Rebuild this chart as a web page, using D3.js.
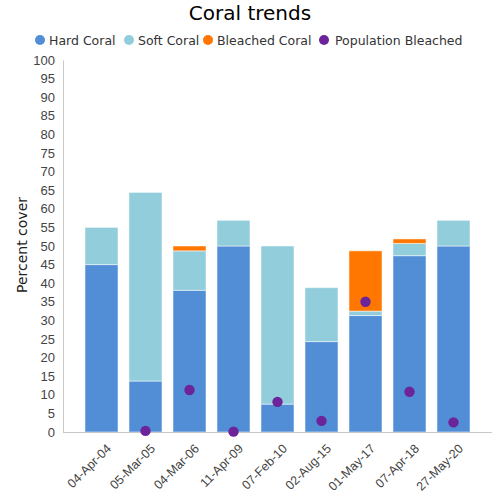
<!DOCTYPE html>
<html><head><meta charset="utf-8">
<script src="https://cdn.jsdelivr.net/npm/d3@7"></script>
<style>body{margin:0;background:#fff}svg{font-family:"DejaVu Sans",Verdana,sans-serif}</style>
</head><body><svg id="c" width="500" height="500"></svg>
<script>
const categories = ["04-Apr-04","05-Mar-05","04-Mar-06","11-Apr-09","07-Feb-10","02-Aug-15","01-May-17","07-Apr-18","27-May-20"];
const hardCoral = [45, 13.7, 38.1, 50, 7.5, 24.3, 31.3, 47.4, 50];
const softCoral = [10, 50.7, 10.6, 6.9, 42.5, 14.5, 1.2, 3.3, 6.9];
const bleachedCoral = [0, 0, 1.3, 0, 0, 0, 16.2, 1.2, 0];
const populationBleached = [null, 0.3, 11.3, 0.1, 8.1, 3.0, 35.0, 10.8, 2.6];
const yTicks = d3.range(0, 101, 5);
const seriesNames = ["Hard Coral","Soft Coral","Bleached Coral","Population Bleached"];
const colors = ["#528ed6","#92cddb","#ff7700","#6d2399"];

const svg = d3.select("#c");
const m = {l:63, r:492, t:60, b:432};
const x = d3.scaleBand().domain(categories).range([m.l, m.r]).paddingInner(0.25).paddingOuter(0.5);
const y = d3.scaleLinear().domain([0,100]).range([m.b, m.t]);

const rows = categories.map((c,i)=>({cat:c, hard:hardCoral[i], soft:softCoral[i], bleached:bleachedCoral[i]}));
const stack = d3.stack().keys(["hard","soft","bleached"])(rows);

svg.append("g").selectAll("g").data(stack).join("g")
  .attr("fill",(d,i)=>colors[i])
  .selectAll("rect").data(d=>d.filter(s=>s[1]-s[0]>0)).join("rect")
  .attr("x",d=>x(d.data.cat)).attr("width",x.bandwidth())
  .attr("y",d=>y(d[1])).attr("height",d=>y(d[0])-y(d[1]))
  .attr("stroke","#ffffff").attr("stroke-opacity",0.5).attr("stroke-width",1);

// axes
const yAxis = svg.append("g").attr("transform",`translate(${m.l},0)`)
  .call(d3.axisLeft(y).tickValues(yTicks).tickSize(0).tickPadding(8));
yAxis.select(".domain").attr("stroke","#c8c8c8");
yAxis.selectAll("text").attr("fill","#444").style("font-size","13px");

const xAxis = svg.append("g").attr("transform",`translate(0,${m.b})`)
  .call(d3.axisBottom(x).tickSize(0).tickPadding(6));
xAxis.select(".domain").attr("stroke","#c8c8c8").attr("d",`M${m.l},0.5H${m.r}`);
xAxis.selectAll("text").attr("fill","#444").style("font-size","12.5px")
  .attr("text-anchor","end").attr("dy","0.35em")
  .attr("transform","translate(3,10) rotate(-45)");

// dots
svg.append("g").selectAll("circle").data(populationBleached.map((v,i)=>({v,c:categories[i]})).filter(d=>d.v!=null)).join("circle")
  .attr("cx",d=>x(d.c)+x.bandwidth()/2).attr("cy",d=>y(d.v)).attr("r",5.2)
  .attr("fill",colors[3]);

// title
svg.append("text").attr("x",250).attr("y",20).attr("text-anchor","middle")
  .style("font-size","20px").attr("fill","#000").text("Coral trends");

// y label
svg.append("text").attr("transform","translate(27,245) rotate(-90)").attr("text-anchor","middle")
  .style("font-size","14px").attr("fill","#222").text("Percent cover");

// legend
const legX = [40, 129, 208, 324];
const leg = svg.append("g");
seriesNames.forEach((n,i)=>{
  leg.append("circle").attr("cx",legX[i]).attr("cy",40).attr("r",5).attr("fill",colors[i]);
  leg.append("text").attr("x",legX[i]+(i===3?11:9)).attr("y",44.5).style("font-size","12.5px")
    .attr("fill","#333").text(n);
});
</script></body></html>
